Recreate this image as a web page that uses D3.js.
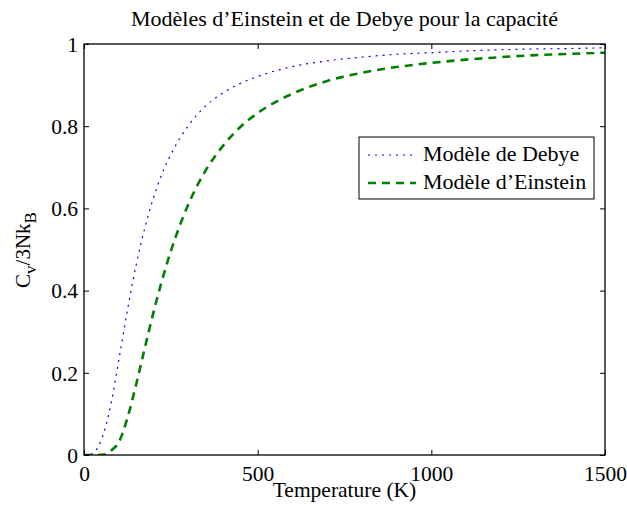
<!DOCTYPE html>
<html><head><meta charset="utf-8">
<script src="https://cdn.jsdelivr.net/npm/d3@7"></script>
<style>body{margin:0;background:#fff}svg{display:block}text{font-family:"Liberation Serif","Times New Roman",serif;fill:#000}</style>
</head><body><svg id="c" width="627" height="508"></svg>
<script>
const temperatures = [0,20,40,60,80,100,125,150,175,200,225,250,300,350,400,450,500,600,700,800,900,1000,1100,1200,1300,1400,1500];
const debye =        [0,0.002,0.019,0.062,0.134,0.230,0.352,0.462,0.552,0.626,0.685,0.731,0.801,0.849,0.881,0.904,0.921,0.945,0.959,0.968,0.975,0.979,0.983,0.986,0.988,0.989,0.991];
const einstein =     [0,0,0.0000,0.0012,0.012,0.031,0.090,0.171,0.260,0.347,0.426,0.496,0.609,0.692,0.752,0.798,0.832,0.879,0.910,0.930,0.944,0.954,0.962,0.968,0.973,0.976,0.979];
const xTicks = [0,500,1000,1500];
const yTicks = [0,0.2,0.4,0.6,0.8,1];
const title = "Modèles d’Einstein et de Debye pour la capacité";
const seriesNames = ["Modèle de Debye","Modèle d’Einstein"];
const FF = "Liberation Serif";

const svg = d3.select("#c");
const L=84,R=605,T=44,B=455;
const x = d3.scaleLinear().domain([0,1500]).range([L,R]);
const y = d3.scaleLinear().domain([0,1]).range([B,T]);

svg.append("defs").append("clipPath").attr("id","cp").append("rect").attr("x",L).attr("y",T-3).attr("width",R-L).attr("height",B-T+3);

const line = d3.line().x((d,i)=>x(temperatures[i])).y(d=>y(d)).curve(d3.curveMonotoneX);
const g = svg.append("g").attr("clip-path","url(#cp)");
g.append("path").attr("d",line(debye)).attr("fill","none").attr("stroke","#0000ff").attr("stroke-width",1.2).attr("stroke-dasharray","2,5");
g.append("path").attr("d",line(einstein)).attr("fill","none").attr("stroke","#008000").attr("stroke-width",2.6).attr("stroke-dasharray","8,6");

svg.append("rect").attr("x",L).attr("y",T).attr("width",R-L).attr("height",B-T).attr("fill","none").attr("stroke","#000").attr("stroke-width",1.3);

const ax = svg.append("g").attr("transform",`translate(0,${B})`).call(d3.axisBottom(x).tickValues(xTicks).tickSize(-5).tickPadding(0).tickFormat(d3.format("d")));
const axT = svg.append("g").attr("transform",`translate(0,${T})`).call(d3.axisTop(x).tickValues(xTicks).tickSize(-5).tickFormat(""));
const ay = svg.append("g").attr("transform",`translate(${L},0)`).call(d3.axisLeft(y).tickValues(yTicks).tickSize(-5).tickPadding(0).tickFormat(d=>d===0||d===1?String(d):d3.format(".1f")(d)));
const ayR = svg.append("g").attr("transform",`translate(${R},0)`).call(d3.axisRight(y).tickValues(yTicks).tickSize(-5).tickFormat(""));
[ax,axT,ay,ayR].forEach(a=>{a.attr("font-family",FF).attr("font-size",21.5);a.select(".domain").remove();a.selectAll("line").attr("stroke","#000").attr("stroke-width",1);a.selectAll("text").attr("font-family",FF).style("font-size","21.5px").attr("fill","#000");});
ax.selectAll("text").attr("y",26).attr("dy",0);
ay.selectAll("text").attr("x",-6).attr("dy","0.34em");

svg.append("text").attr("x",(L+R)/2).attr("y",26).attr("text-anchor","middle").attr("font-family",FF).style("font-size","22px").text(title);
svg.append("text").attr("x",(L+R)/2).attr("y",497).attr("text-anchor","middle").attr("font-family",FF).style("font-size","21.5px").text("Temperature (K)");
const yl = svg.append("text").attr("transform","translate(30,250) rotate(-90)").attr("text-anchor","middle").attr("font-family",FF).style("font-size","21px");
yl.append("tspan").text("C");
yl.append("tspan").attr("dy",6).style("font-size","17px").text("v");
yl.append("tspan").attr("dy",-6).text("/3Nk");
yl.append("tspan").attr("dy",6).style("font-size","17px").text("B");

const lg = svg.append("g");
lg.append("rect").attr("x",359).attr("y",137).attr("width",235).attr("height",62).attr("fill","#fff").attr("stroke","#000").attr("stroke-width",1);
const rows=[{n:seriesNames[0],c:"#0000ff",w:1.2,d:"2,5",yy:155},{n:seriesNames[1],c:"#008000",w:2.6,d:"8,6",yy:183}];
rows.forEach(r=>{
  lg.append("line").attr("x1",368).attr("x2",416).attr("y1",r.yy).attr("y2",r.yy).attr("stroke",r.c).attr("stroke-width",r.w).attr("stroke-dasharray",r.d);
  lg.append("text").attr("x",423).attr("y",r.yy+6).attr("font-family",FF).style("font-size","22px").text(r.n);
});
</script></body></html>
